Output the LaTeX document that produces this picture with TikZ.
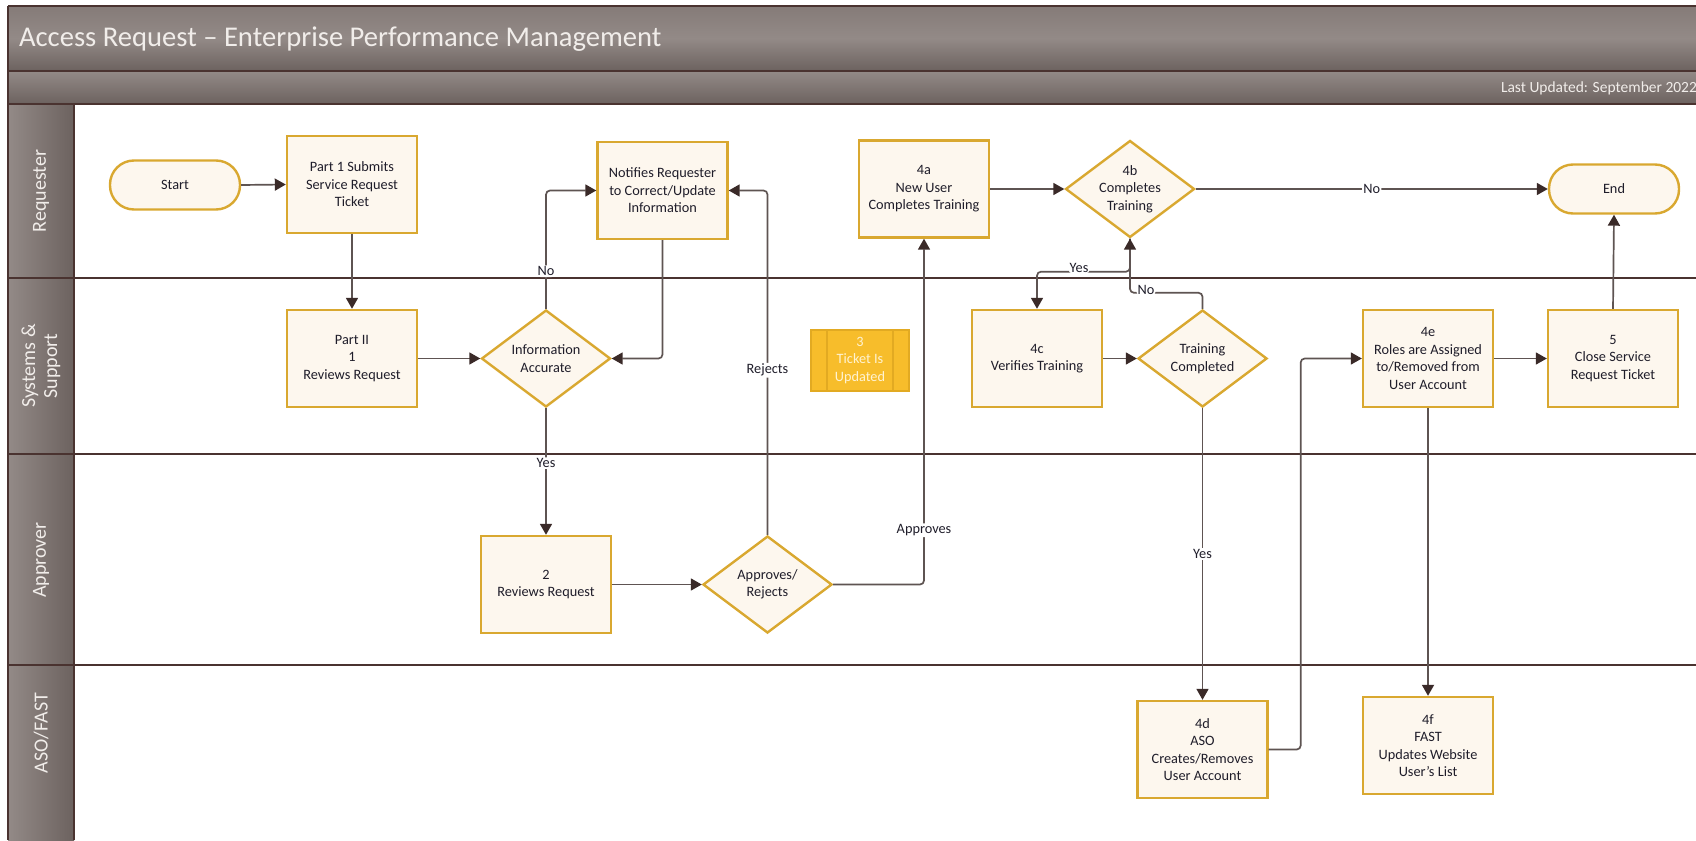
\documentclass[tikz,border=0pt]{standalone}
\usepackage{fontspec}
\setmainfont{Carlito}
\usetikzlibrary{shapes.geometric,arrows.meta}
\definecolor{hdrlight}{HTML}{938A87}
\definecolor{hdrdark}{HTML}{6C625F}
\definecolor{hdrmid}{HTML}{857B78}
\definecolor{edgebrown}{HTML}{4A3330}
\definecolor{gold}{HTML}{D9A830}
\definecolor{cream}{HTML}{FDF7EE}
\definecolor{ticketgold}{HTML}{F7BD2B}
\definecolor{ticketedge}{HTML}{E2AA22}
\definecolor{tickettext}{HTML}{FFF3D2}
\definecolor{connline}{HTML}{5E5452}
\definecolor{tipcol}{HTML}{3A2A28}
\definecolor{txt}{HTML}{1F1D2A}
\definecolor{hdrtext}{HTML}{F1EDEA}
\newcommand\boxfont{\fontsize{7.15pt}{8.75pt}\selectfont}
\tikzset{
  proc/.style={rectangle, draw=gold, fill=cream, line width=1.2pt,
    minimum width=65pt, minimum height=48.5pt, align=center, inner sep=1pt,
    font=\boxfont, text=txt},
  dec/.style={diamond, draw=gold, fill=cream, line width=1.2pt,
    minimum width=64.5pt, minimum height=48.5pt, aspect=1.33, align=center,
    inner sep=-3pt, font=\boxfont, text=txt},
  term/.style={rectangle, rounded corners=12pt, draw=gold, fill=cream, line width=1.2pt,
    minimum width=65pt, minimum height=24.5pt, align=center, font=\boxfont, text=txt},
  ticketbox/.style={rectangle, draw=ticketedge, fill=ticketgold, line width=0.8pt,
    minimum width=49pt, minimum height=30.5pt, align=center, inner sep=1pt,
    font=\boxfont, text=tickettext},
  conn/.style={draw=connline, line width=0.85pt, rounded corners=2pt,
    -{Triangle[length=5.5pt,width=6pt,fill=tipcol,color=tipcol]}},
  lbl/.style={fill=white, inner sep=0.6pt, font=\boxfont, text=txt},
  lanelbl/.style={rotate=90, align=center, text=hdrtext,
    font=\fontsize{10pt}{11pt}\selectfont},
  laneline/.style={draw=edgebrown, line width=1.4pt},
}
\begin{document}
\begin{tikzpicture}[x=0.5pt,y=-0.5pt]
\useasboundingbox (0,0) rectangle (1696,840);
\fill[white] (0,0) rectangle (1696,840);
% title bars
\shade[top color=hdrmid, bottom color=hdrdark, middle color=hdrlight] (8,6) rectangle (1696,71);
\shade[top color=hdrlight, bottom color=hdrdark] (8,71) rectangle (1696,104);
\draw[laneline] (8,6) -- (1696,6);
\draw[laneline] (8,71) -- (1696,71);
\node[anchor=west, text=hdrtext, font=\fontsize{14.3pt}{17pt}\selectfont] (title) at (12,39)
  {Access Request – Enterprise Performance Management};
\node[anchor=east, text=hdrtext, font=\fontsize{7.75pt}{9pt}\selectfont] (updated) at (1704,88)
  {Last Updated: September 2022};
% lane headers
\shade[left color=hdrlight, right color=hdrdark] (8,104) rectangle (74,840);
\draw[laneline] (8,104) -- (1696,104);
\draw[laneline] (8,278) -- (1696,278);
\draw[laneline] (8,454) -- (1696,454);
\draw[laneline] (8,665) -- (1696,665);
\draw[laneline] (74,104) -- (74,840);
\draw[laneline] (8,6) -- (8,840);
\node[lanelbl] (l1) at (41,191) {Requester};
\node[lanelbl] (l2) at (41,366) {Systems \&\\Support};
\node[lanelbl] (l3) at (41,560) {Approver};
\node[lanelbl] (l4) at (41,733) {ASO/FAST};
% nodes
\node[term] (start) at (175,185) {Start};
\node[proc] (p1) at (352,184.5) {Part 1 Submits\\Service Request\\Ticket};
\node[proc] (p2) at (352,358.5) {Part II\\1\\Reviews Request};
\node[dec] (ia) at (546,358.5) {Information\\Accurate};
\node[proc] (notif) at (662.5,190.5) {Notifies Requester\\to Correct/Update\\Information};
\node[ticketbox] (t3) at (860,360.5) {3\\Ticket Is\\Updated};
\draw[draw=ticketedge, line width=0.8pt] ([xshift=8.5pt]t3.north west) -- ([xshift=8.5pt]t3.south west);
\draw[draw=ticketedge, line width=0.8pt] ([xshift=-8.5pt]t3.north east) -- ([xshift=-8.5pt]t3.south east);
\node[proc] (a4) at (924,189) {4a\\New User\\Completes Training};
\node[dec] (b4) at (1130,189) {4b\\Completes\\Training};
\node[term] (endn) at (1614,189) {End};
\node[proc] (c4) at (1037,358.5) {4c\\Verifies Training};
\node[dec] (tc) at (1202.5,358.5) {Training\\Completed};
\node[proc] (e4) at (1428,358.5) {4e\\Roles are Assigned\\to/Removed from\\User Account};
\node[proc] (f5) at (1613,358.5) {5\\Close Service\\Request Ticket};
\node[proc] (r2) at (546,584.5) {2\\Reviews Request};
\node[dec] (ar) at (767.5,584.5) {Approves/\\Rejects};
\node[proc] (d4) at (1202.5,749.5) {4d\\ASO\\Creates/Removes\\User Account};
\node[proc] (f4) at (1428,745.5) {4f\\FAST\\Updates Website\\User's List};
% connectors
\draw[conn] (start.east) -- (p1.west);
\draw[conn] (p1.south) -- (p2.north);
\draw[conn] (p2.east) -- (ia.west);
\draw[conn] (ia.north) |- (notif.west) node[lbl, pos=0.159] {No};
\draw[conn] (notif.south) |- (ia.east);
\draw[conn] (ia.south) -- (r2.north) node[lbl, pos=0.434] {Yes};
\draw[conn] (r2.east) -- (ar.west);
\draw[conn] (ar.north) |- (notif.east) node[lbl, pos=0.239] {Rejects};
\draw[conn] (ar.east) -| (a4.south) node[lbl, pos=0.5785] {Approves};
\draw[conn] (a4.east) -- (b4.west);
\draw[conn] (b4.east) -- (endn.west) node[lbl, pos=0.5] {No};
\draw[conn] (b4.south) -- ++(0,33) -| (c4.north) node[lbl, pos=0.274, yshift=2pt] {Yes};
\draw[conn] (tc.north) -- ++(0,-16) -| (b4.south) node[lbl, pos=0.39, yshift=1.5pt] {No};
\draw[conn] (c4.east) -- (tc.west);
\draw[conn] (tc.south) -- (d4.north) node[lbl, pos=0.5] {Yes};
\draw[conn] (d4.east) -- ++(32,0) |- (e4.west);
\draw[conn] (e4.east) -- (f5.west);
\draw[conn] (f5.north) -- (endn.south);
\draw[conn] (e4.south) -- (f4.north);
\end{tikzpicture}
\end{document}
